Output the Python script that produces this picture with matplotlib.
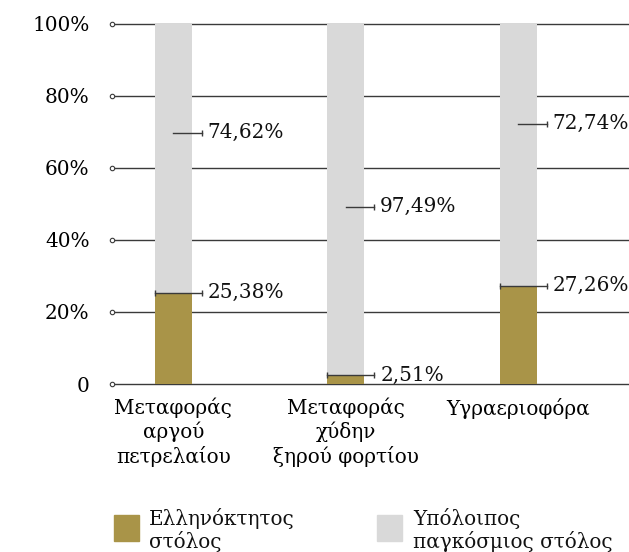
import matplotlib
matplotlib.use("Agg")
import matplotlib.pyplot as plt
from matplotlib.patches import Rectangle

# Fleet share by ship type (%)
categories = ["Μεταφοράς\nαργού\nπετρελαίου", "Μεταφοράς\nχύδην\nξηρού φορτίου", "Υγραεριοφόρα"]
greek_fleet = [25.38, 2.51, 27.26]
rest_of_world = [74.62, 97.49, 72.74]
series_names = ["Ελληνόκτητος\nστόλος", "Υπόλοιπος\nπαγκόσμιος στόλος"]
y_ticks = [0, 20, 40, 60, 80, 100]
y_tick_labels = ["0", "20%", "40%", "60%", "80%", "100%"]

# Vertical anchor of the upper-segment callouts (in axis %)
rest_label_y = [69.7, 49.2, 72.2]

GOLD = "#a99448"
GREY = "#d9d9d9"
LINE = "#3a3a3a"
FS = 14.4

plt.rcParams["font.family"] = ["DejaVu Serif"]

fig = plt.figure(figsize=(6.29, 5.52), dpi=100)
ax = fig.add_axes([0.178, 0.3043, 0.822, 0.6531])

bar_w = 0.2145
xs = list(range(len(categories)))
ax.bar(xs, greek_fleet, width=bar_w, color=GOLD, zorder=2)
ax.bar(xs, rest_of_world, bottom=greek_fleet, width=bar_w, color=GREY, zorder=2)

ax.set_xlim(-0.355, 2.642)
ax.set_ylim(0, 100)

# horizontal rules with small open circles at their left end
for t in y_ticks:
    ax.axhline(t, color=LINE, lw=1.0, zorder=1, clip_on=False)
    ax.plot([-0.355], [t], marker="o", ms=3.2, mfc="white", mec=LINE, mew=0.8,
            clip_on=False, zorder=3)

for s in ax.spines.values():
    s.set_visible(False)
ax.set_yticks(y_ticks)
ax.set_yticklabels(y_tick_labels, fontsize=FS)
ax.tick_params(axis="y", length=0, pad=16)
ax.set_xticks(xs)
ax.set_xticklabels(categories, fontsize=FS, linespacing=1.2)
ax.tick_params(axis="x", length=0, pad=10)

px = 1 / 172.5  # one pixel in x data units
for i in xs:
    x0, x1 = i - bar_w / 2, i + bar_w / 2
    xe = x1 + 10 * px
    # callout for the lower (gold) segment
    g = greek_fleet[i]
    ax.plot([x0, xe], [g, g], color=LINE, lw=1.0, zorder=4)
    ax.plot([x0, xe], [g, g], ls="none", marker="|", ms=4.5, mew=1.0, color=LINE, zorder=4)
    ax.text(x1 + 16 * px, g, f"{g:.2f}%".replace(".", ","), fontsize=FS,
            va="center", ha="left", color="#111111")
    # callout for the upper (grey) segment
    yr = rest_label_y[i]
    ax.plot([i, xe], [yr, yr], color=LINE, lw=1.0, zorder=4)
    ax.plot([xe], [yr], ls="none", marker="|", ms=4.5, mew=1.0, color=LINE, zorder=4)
    ax.text(x1 + 16 * px, yr, f"{rest_of_world[i]:.2f}%".replace(".", ","), fontsize=FS,
            va="center", ha="left", color="#111111")

# legend drawn in figure pixels
W, H = 629, 552
for (sx, tx), color, name in zip([(114, 149), (377, 413)], [GOLD, GREY], series_names):
    fig.patches.append(Rectangle((sx / W, 1 - 541 / H), 25 / W, 26 / H,
                                 transform=fig.transFigure, color=color))
    fig.text(tx / W, 1 - 508 / H, name, fontsize=FS, va="top", ha="left",
             linespacing=1.12, color="#111111")

fig.savefig("out.png", dpi=100)
